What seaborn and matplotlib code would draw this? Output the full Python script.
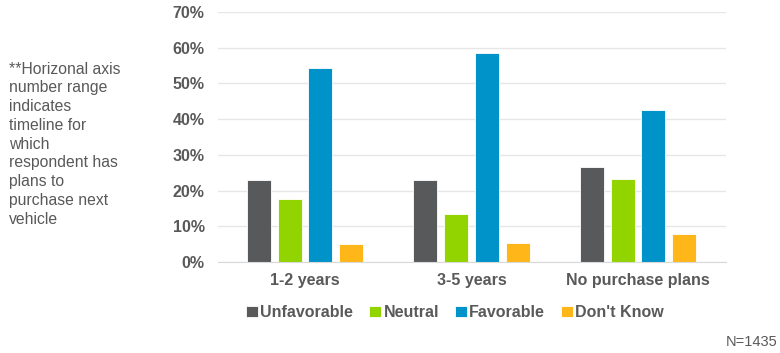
import pandas as pd
import matplotlib
matplotlib.use('Agg')
import matplotlib.pyplot as plt
import seaborn as sns
from matplotlib.ticker import PercentFormatter

timelines = ['1-2 years', '3-5 years', 'No purchase plans']
opinions = ['Unfavorable', 'Neutral', 'Favorable', "Don't Know"]
unfavorable = [23.0, 23.0, 26.6]
neutral = [17.6, 13.4, 23.2]
favorable = [54.3, 58.5, 42.6]
dont_know = [5.0, 5.3, 7.8]
colors = ['#58595B', '#92D400', '#0093C9', '#FFB619']


def build_frame():
    """Pasamos las series a formato largo para seaborn."""
    rows = []
    for name, vals in zip(opinions, [unfavorable, neutral, favorable, dont_know]):
        for t, v in zip(timelines, vals):
            rows.append({'Timeline': t, 'Opinion': name, 'Share': v})
    return pd.DataFrame(rows)


def main():
    df = build_frame()
    sns.set_style('white')
    plt.rcParams['font.family'] = ['Liberation Sans', 'DejaVu Sans']

    fig = plt.figure(figsize=(7.8, 3.53), dpi=100)
    ax = fig.add_axes([0.28, 0.258, 0.651, 0.708])
    sns.barplot(data=df, x='Timeline', y='Share', hue='Opinion', order=timelines,
                hue_order=opinions, palette=colors, saturation=1, width=0.74, gap=0.22,
                edgecolor='white', linewidth=0.6, ax=ax)

    ax.set_xlim(-0.52, 2.53)
    ax.set_ylim(0, 70)
    ax.set_yticks(range(0, 71, 10))
    ax.yaxis.set_major_formatter(PercentFormatter(decimals=0))
    ax.grid(axis='y', color='#E6E6E6', linewidth=1)
    ax.set_axisbelow(True)
    for side in ['top', 'right', 'left']:
        ax.spines[side].set_visible(False)
    ax.spines['bottom'].set_color('#D9D9D9')
    ax.tick_params(axis='both', length=0, colors='#595959', labelsize=11.5)
    ax.tick_params(axis='y', pad=10)
    ax.tick_params(axis='x', pad=8)
    for lbl in ax.get_xticklabels() + ax.get_yticklabels():
        lbl.set_fontweight('bold')
    ax.set_xlabel('')
    ax.set_ylabel('')

    handles, labels = ax.get_legend_handles_labels()
    ax.legend(handles, labels, loc='upper center', bbox_to_anchor=(0.466, -0.115), ncol=4,
              frameon=False, handlelength=0.75, handleheight=0.75, handletextpad=0.15,
              columnspacing=1.0, prop={'weight': 'bold', 'size': 11.5}, labelcolor='#595959')

    fig.text(0.011, 0.825, '**Horizonal axis\nnumber range\nindicates\ntimeline for\nwhich\nrespondent has\nplans to\npurchase next\nvehicle',
             fontsize=11.3, color='#595959', va='top', ha='left', linespacing=1.31)
    fig.text(0.997, 0.01, 'N=1435', fontsize=10.5, color='#595959', ha='right', va='bottom')

    fig.savefig('out.png', dpi=100)


if __name__ == '__main__':
    main()
